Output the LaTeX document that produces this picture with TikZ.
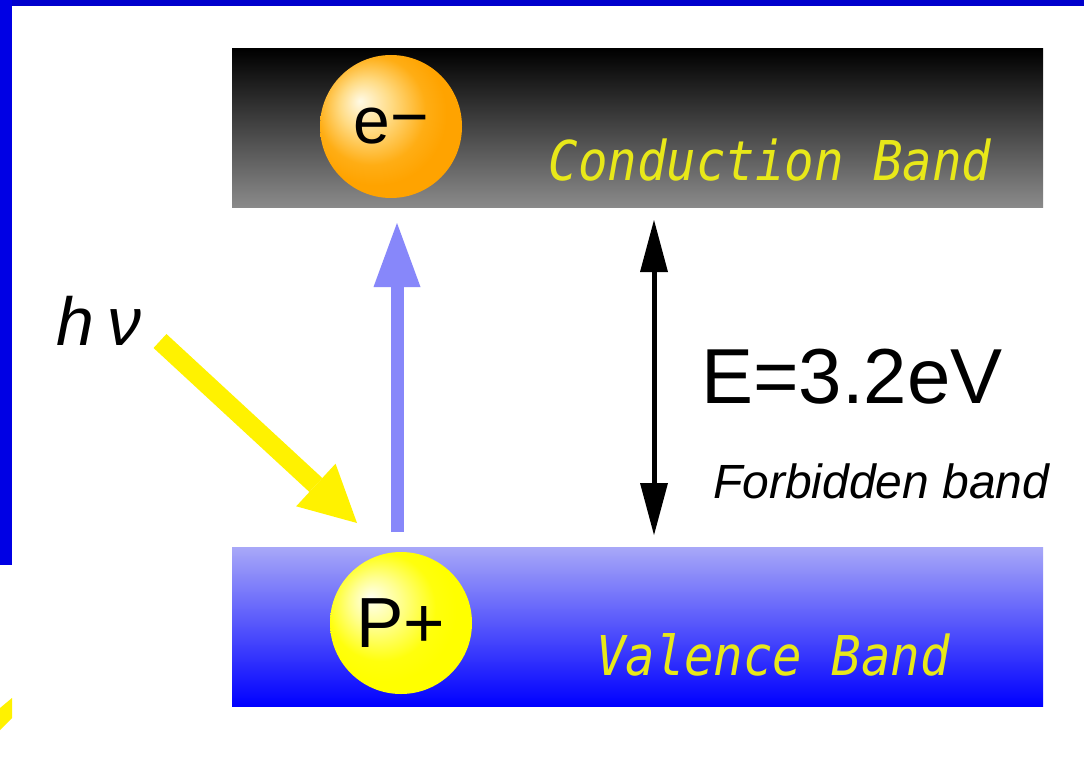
\documentclass[tikz,border=0pt]{standalone}
\usepackage{graphicx}
\usepackage{fontspec}
\setmainfont{Liberation Sans}
\newfontfamily\monoobl{DejaVu Sans Mono}
\usetikzlibrary{arrows.meta,shapes.geometric}
\definecolor{frametop}{RGB}{0,0,205}
\definecolor{frameleft}{RGB}{0,0,228}
\definecolor{cbbottom}{RGB}{138,138,138}
\definecolor{vbtop}{RGB}{168,168,248}
\definecolor{vbbottom}{RGB}{0,0,255}
\definecolor{bandyellow}{RGB}{232,232,25}
\definecolor{photonblue}{RGB}{135,135,250}
\pgfdeclareradialshading{eballshade}{\pgfpoint{-11bp}{9bp}}{rgb(0bp)=(1,0.98,0.9); rgb(9bp)=(1,0.86,0.52); rgb(19bp)=(1,0.68,0.08); rgb(25bp)=(1,0.64,0); rgb(50bp)=(1,0.64,0)}
\pgfdeclareradialshading{pballshade}{\pgfpoint{-11bp}{9bp}}{rgb(0bp)=(1,1,0.95); rgb(9bp)=(1,1,0.55); rgb(19bp)=(1,1,0.05); rgb(25bp)=(1,1,0); rgb(50bp)=(1,1,0)}
\begin{document}
\begin{tikzpicture}[x=1pt,y=1pt,
  band/.style={rectangle, minimum width=811pt, minimum height=158pt, inner sep=0pt},
  ball/.style={ellipse, minimum width=142pt, minimum height=143pt, inner sep=0pt, shade},
  bandlabel/.style={text=bandyellow, inner sep=0pt, anchor=base, font=\monoobl\itshape\fontsize{49pt}{50pt}\selectfont},
  plain/.style={inner sep=0pt, anchor=base west},
  photon/.style={draw=yellow, line width=19pt, -{Triangle[width=58pt,length=56pt,line width=0pt]}},
  excite/.style={draw=photonblue, line width=13pt, -{Triangle[width=47pt,length=64pt,line width=0pt]}},
  gaparrow/.style={draw=black, line width=5pt, {Triangle[width=28pt,length=52pt,line width=0pt]}-{Triangle[width=28pt,length=52pt,line width=0pt]}}
]
\useasboundingbox (0,0) rectangle (1084,-776);
\fill[white] (0,0) rectangle (1084,-776);
\fill[frametop] (0,0) rectangle (1084,-6);
\fill[frameleft] (0,0) rectangle (12,-565);
\fill[yellow] (12,-698) -- (12,-718) -- (0,-730) -- (0,-708) -- cycle;

% bands
\node[band, top color=black, bottom color=cbbottom] (cb) at (637.5,-128) {};
\node[band, minimum height=159pt, top color=vbtop, bottom color=vbbottom] (vb) at (637.5,-626.5) {};

% band labels
\node[bandlabel] (cbt) at (770,-180) {\scalebox{1}[1.12]{Conduction Band}};
\node[bandlabel] (vbt) at (773,-675) {\scalebox{1}[1.12]{Valence Band}};

% carriers
\node[ball, shading=eballshade, font=\fontsize{66pt}{68pt}\selectfont] (e) at (391,-126.5) {e\raisebox{4pt}{−}};
\node[ball, shading=pballshade, minimum height=142pt, font=\fontsize{71pt}{73pt}\selectfont] (p) at (401,-623) {P+};

% excitation arrow
\coordinate (exs) at (397,-532);
\coordinate (exe) at (397,-223);
\draw[excite] (exs) -- (exe);

% photon
\node[plain, font=\itshape\fontsize{68pt}{70pt}\selectfont] (hnu) at (56,-345) {h\hspace{14pt}ν};
\coordinate (phs) at (160,-341);
\coordinate (phe) at (357,-523);
\draw[photon] (phs) -- (phe);

% band gap
\coordinate (gt) at (654,-220);
\coordinate (gb) at (654,-535);
\draw[gaparrow] (gt) -- (gb);
\node[plain, font=\fontsize{78pt}{80pt}\selectfont] (gap) at (701,-403) {E=3.2eV};
\node[plain, font=\itshape\fontsize{48pt}{50pt}\selectfont] (fb) at (713,-498) {Forbidden band};
\end{tikzpicture}
\end{document}
